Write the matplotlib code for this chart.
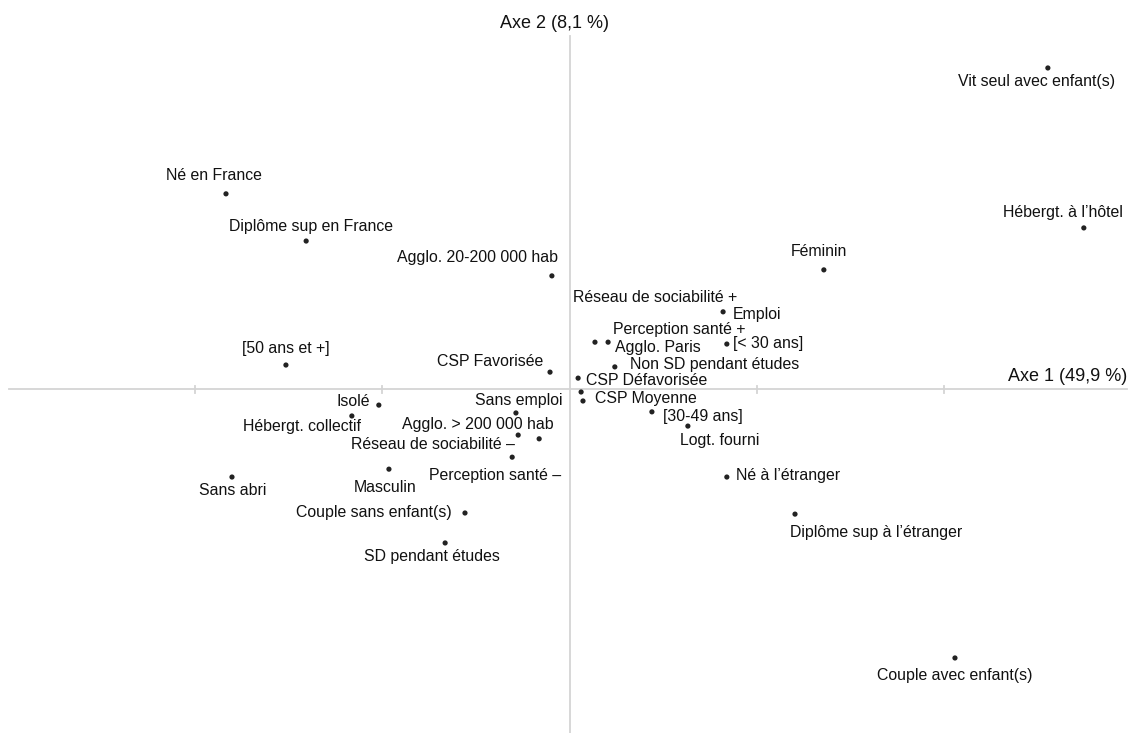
import matplotlib
matplotlib.use("Agg")
import matplotlib.pyplot as plt

# coordinates on the two first factorial axes
labels = [
    "Vit seul avec enfant(s)", "Hébergt. à l’hôtel", "Né en France", "Diplôme sup en France",
    "Agglo. 20-200 000 hab", "[50 ans et +]", "CSP Favorisée", "Féminin",
    "Réseau de sociabilité +", "Emploi", "Perception santé +", "Agglo. Paris",
    "[< 30 ans]", "Non SD pendant études", "CSP Défavorisée", "CSP Moyenne",
    "Isolé", "Hébergt. collectif", "Sans emploi", "Agglo. > 200 000 hab",
    "Réseau de sociabilité –", "Perception santé –", "Masculin", "Sans abri",
    "Couple sans enfant(s)", "SD pendant études", "[30-49 ans]", "Logt. fourni",
    "Né à l’étranger", "Diplôme sup à l’étranger", "Couple avec enfant(s)",
]
axe1 = [1.277, 1.373, -0.917, -0.703, -0.047, -0.757, -0.052, 0.679,
        0.031, 0.410, 0.068, 0.103, 0.420, 0.121, 0.023, 0.036,
        -0.509, -0.581, -0.143, -0.081, -0.137, -0.153, -0.482, -0.901,
        -0.279, -0.332, 0.220, 0.316, 0.420, 0.602, 1.029]
axe2 = [0.857, 0.430, 0.521, 0.395, 0.302, 0.064, 0.045, 0.318,
        -0.008, 0.206, 0.125, 0.125, 0.120, 0.059, 0.029, -0.032,
        -0.043, -0.072, -0.064, -0.133, -0.123, -0.182, -0.214, -0.235,
        -0.331, -0.411, -0.061, -0.099, -0.235, -0.334, -0.718]
axis_titles = ["Axe 1 (49,9 %)", "Axe 2 (8,1 %)"]
xticks = [-1.0, -0.5, 0.5, 1.0]

# label placement: (dx, dy) in pixels (dy positive = down), horizontal alignment
placement = [
    (-11, 14, "center"), (-21, -15, "center"), (-12, -18, "center"), (5, -15, "center"),
    (6, -18, "right"), (0, -17, "center"), (-7, -11, "right"), (-5, -18, "center"),
    (-8, -94, "left"), (10, 3, "left"), (18, -13, "left"), (7, 5, "left"),
    (6, -1, "left"), (15, -2, "left"), (8, 2, "left"), (12, -2, "left"),
    (-9, -4, "right"), (-50, 11, "center"), (47, -12, "right"), (14, -14, "right"),
    (-3, 9, "right"), (-83, 18, "left"), (-4, 18, "center"), (1, 13, "center"),
    (-13, 0, "right"), (-13, 14, "center"), (11, 5, "left"), (32, 14, "center"),
    (9, -2, "left"), (81, 18, "center"), (0, 18, "center"),
]

plt.rcParams["font.family"] = ["Liberation Sans", "DejaVu Sans"]

W, H, DPI = 1133, 733, 100
scale = 374.6  # pixels per unit
ox, oy = 569.5, 389.0  # origin in pixels

fig = plt.figure(figsize=(W / DPI, H / DPI), dpi=DPI)
ax = fig.add_axes([0, 0, 1, 1])
ax.set_xlim(-ox / scale, (W - ox) / scale)
ax.set_ylim(-(H - oy) / scale, oy / scale)
ax.axis("off")

grey = "#d4d4d4"
ax.plot([(9 - ox) / scale, (1127 - ox) / scale], [0, 0], color=grey, lw=1.3, zorder=1)
ax.plot([0, 0], [-(H - oy) / scale, (oy - 36) / scale], color=grey, lw=1.3, zorder=1)
tick_h = 3.5 / scale
for t in xticks:
    ax.plot([t, t], [-tick_h, tick_h], color=grey, lw=1.3, zorder=1)

ax.scatter(axe1, axe2, s=14, color="#222222", edgecolors="none", zorder=3)

for name, x, y, (dx, dy, ha) in zip(labels, axe1, axe2, placement):
    ax.annotate(name, (x, y), xytext=(dx, -dy), textcoords="offset pixels",
                ha=ha, va="center", fontsize=11.4, color="#111111")

ax.text((1127 - ox) / scale, (oy - 376) / scale, axis_titles[0],
        ha="right", va="center", fontsize=13, color="#111111")
ax.text((554 - ox) / scale, (oy - 23) / scale, axis_titles[1],
        ha="center", va="center", fontsize=13, color="#111111")

fig.savefig("out.png", dpi=DPI)
